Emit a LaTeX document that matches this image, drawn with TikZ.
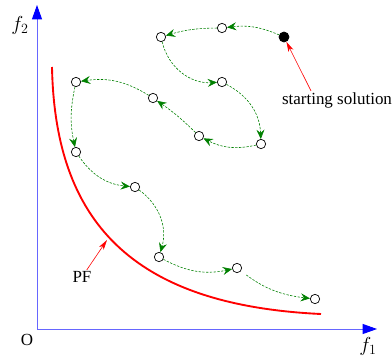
\documentclass[tikz,border=0pt]{standalone}
\usepackage{fontspec}
\setmainfont{Liberation Serif}
\usetikzlibrary{arrows.meta}

\begin{document}
\begin{tikzpicture}[x=0.03cm,y=-0.03cm,
    sol/.style={circle,draw,fill=white,inner sep=0pt,minimum size=0.28cm,line width=0.6pt},
    move/.style={-{Stealth[length=0.28cm,width=0.24cm,inset=0.1cm]},green!50!black,dash pattern=on 2pt off 1.2pt,line width=0.5pt},
    axis/.style={blue!60,line width=0.8pt,-{Triangle[length=0.43cm,width=0.3cm,color=blue]}},
    pointer/.style={red,line width=0.5pt,-{Stealth[length=0.3cm,width=0.16cm,inset=0.08cm]}},
    lbl/.style={font=\fontsize{14.5}{16}\selectfont,inner sep=1pt},
    axlbl/.style={font=\fontsize{17}{19}\selectfont,inner sep=1pt}]
  \useasboundingbox (0,0) rectangle (392,358);
  \coordinate (o) at (37,329);
  \coordinate (xe) at (377,329);
  \coordinate (ye) at (37,5);
  \draw[axis] (o) -- (xe);
  \draw[axis] (o) -- (ye);
  \node[axlbl] (f1) at (368,346) {$f_1$};
  \node[axlbl] (f2) at (20,25) {$f_2$};
  \node[lbl] (org) at (27,340) {O};
  \draw[red,line width=1.6pt] (52,67) .. controls (55,220) and (130,305) .. (321,314);
  \node[sol,fill=black,minimum size=0.3cm] (s0) at (284,37) {};
  \node[sol] (s1) at (222,28) {};
  \node[sol] (s2) at (161,37) {};
  \node[sol] (s3) at (222,82) {};
  \node[sol] (s4) at (261,144) {};
  \node[sol] (s5) at (199,136) {};
  \node[sol] (s6) at (153,98) {};
  \node[sol] (s7) at (76,82) {};
  \node[sol] (s8) at (76,152) {};
  \node[sol] (s9) at (135,187) {};
  \node[sol] (s10) at (159,257) {};
  \node[sol] (s11) at (237,268) {};
  \node[sol] (s12) at (315,299) {};
  \draw[move] (s0) to[bend right=15] (s1);
  \draw[move] (s1) to[bend right=8] (s2);
  \draw[move] (s2) to[bend right=40] (s3);
  \draw[move] (s3) to[bend left=30] (s4);
  \draw[move] (s4) to[bend left=20] (s5);
  \draw[move] (s5) to[bend right=5] (s6);
  \draw[move] (s6) to[bend right=20] (s7);
  \draw[move] (s7) to[bend right=12] (s8);
  \draw[move] (s8) to[bend right=25] (s9);
  \draw[move] (s9) to[bend left=35] (s10);
  \draw[move] (s10) to[bend right=20] (s11);
  \draw[move,shorten <=0.2cm] (s11) to[bend right=15] (s12);
  \coordinate (pft) at (107,240);
  \node[lbl] (pf) at (82,277) {PF};
  \draw[pointer] (pf) -- (pft);
  \node[lbl] (ss) at (337,100) {starting solution};
  \draw[pointer] ([xshift=-0.78cm]ss.north) -- (s0);
\end{tikzpicture}
\end{document}
